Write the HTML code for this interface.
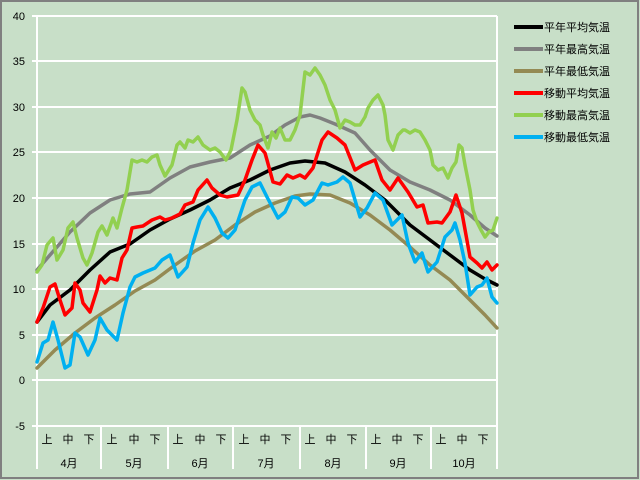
<!DOCTYPE html>
<html><head><meta charset="utf-8"><style>
body{margin:0;background:#c8dfc8;}
svg{display:block;}
text{font-family:"Liberation Sans","Noto Sans CJK JP",sans-serif;font-size:11px;fill:#000;}
</style></head><body>
<svg width="640" height="480" viewBox="0 0 640 480">
<rect x="0" y="0" width="640" height="480" fill="#c8dfc8"/>
<rect x="1" y="1" width="637" height="477" fill="none" stroke="#808080" stroke-width="2"/>
<g stroke="#fff" stroke-width="2">
<line x1="37" y1="16" x2="497" y2="16"/><line x1="37" y1="61" x2="497" y2="61"/>
<line x1="37" y1="107" x2="497" y2="107"/><line x1="37" y1="152" x2="497" y2="152"/>
<line x1="37" y1="198" x2="497" y2="198"/><line x1="37" y1="244" x2="497" y2="244"/>
<line x1="37" y1="289" x2="497" y2="289"/><line x1="37" y1="335" x2="497" y2="335"/>
<line x1="37" y1="380" x2="497" y2="380"/><line x1="37" y1="426" x2="497" y2="426"/>
<line x1="37" y1="16" x2="37" y2="469"/><line x1="497" y1="16" x2="497" y2="469"/>
<line x1="32" y1="16" x2="37" y2="16"/><line x1="32" y1="61" x2="37" y2="61"/><line x1="32" y1="107" x2="37" y2="107"/><line x1="32" y1="152" x2="37" y2="152"/><line x1="32" y1="198" x2="37" y2="198"/><line x1="32" y1="244" x2="37" y2="244"/><line x1="32" y1="289" x2="37" y2="289"/><line x1="32" y1="335" x2="37" y2="335"/><line x1="32" y1="380" x2="37" y2="380"/><line x1="32" y1="426" x2="37" y2="426"/>
<line x1="101" y1="426" x2="101" y2="469"/><line x1="168" y1="426" x2="168" y2="469"/><line x1="233" y1="426" x2="233" y2="469"/><line x1="300" y1="426" x2="300" y2="469"/><line x1="366" y1="426" x2="366" y2="469"/><line x1="431" y1="426" x2="431" y2="469"/>
</g>
<g text-anchor="end">
<text x="25" y="20">40</text><text x="25" y="65">35</text><text x="25" y="111">30</text><text x="25" y="156">25</text><text x="25" y="202">20</text><text x="25" y="248">15</text><text x="25" y="293">10</text><text x="25" y="339">5</text><text x="25" y="384">0</text><text x="25" y="430">-5</text>
</g>
<g text-anchor="middle">
<text x="47" y="443">上</text><text x="68" y="443">中</text><text x="89" y="443">下</text>
<text x="112" y="443">上</text><text x="134" y="443">中</text><text x="155" y="443">下</text>
<text x="178" y="443">上</text><text x="200" y="443">中</text><text x="221" y="443">下</text>
<text x="244" y="443">上</text><text x="265" y="443">中</text><text x="286" y="443">下</text>
<text x="310" y="443">上</text><text x="331" y="443">中</text><text x="352" y="443">下</text>
<text x="376" y="443">上</text><text x="397" y="443">中</text><text x="418" y="443">下</text>
<text x="441" y="443">上</text><text x="462" y="443">中</text><text x="483" y="443">下</text>
<text x="69" y="467">4月</text><text x="134" y="467">5月</text><text x="200" y="467">6月</text><text x="266" y="467">7月</text><text x="333" y="467">8月</text><text x="398" y="467">9月</text><text x="464" y="467">10月</text>
</g>
<g fill="none" stroke-width="3.5" stroke-linejoin="round" stroke-linecap="round">
<polyline stroke="#808080" points="37,270 50,255 70,232 90,213 110,200 130,194 150,192 170,178 190,167 210,162 230,158 250,145 270,136 285,125 300,117 310,115 320,118 335,124 355,133 370,150 390,170 410,182 430,190 450,200 470,215 485,228 497,236"/>
<polyline stroke="#948a54" points="37,368 55,350 75,333 95,318 115,305 135,291 155,280 175,265 195,251 215,240 235,225 255,212 275,203 295,196 310,194 330,195 350,203 370,215 390,230 410,247 430,265 450,280 470,300 485,315 497,328"/>
<polyline stroke="#000" points="37,322 50,305 70,290 90,270 110,252 130,244 150,230 170,219 190,210 210,200 230,188 250,180 270,170 290,163 305,161 325,163 345,172 365,185 385,200 410,225 430,240 450,255 470,270 485,279 497,285"/>
<polyline stroke="#92d050" points="37,272 42,265 47,245 53,238 57,260 63,250 68,228 73,222 77,238 83,258 87,265 92,253 98,232 102,226 107,235 113,218 117,228 122,208 127,190 132,160 137,162 142,160 147,162 152,157 157,155 160,165 165,176 172,165 177,145 180,142 185,148 188,140 193,142 198,137 203,145 210,150 215,148 220,152 226,160 231,150 237,120 242,88 245,92 250,110 255,120 260,125 263,135 268,148 272,132 276,138 280,128 285,140 290,140 295,130 300,115 305,72 310,75 315,68 320,75 325,85 330,100 335,110 340,128 345,120 350,122 355,125 360,125 365,117 368,108 373,100 378,95 383,105 385,115 388,140 393,150 398,135 403,130 405,130 410,133 415,130 420,132 425,140 430,150 433,165 438,170 443,168 448,178 452,168 456,162 459,145 462,148 465,165 470,190 473,210 477,222 481,230 485,237 489,232 493,230 497,218"/>
<polyline stroke="#ff0000" points="37,322 43,308 50,287 55,284 60,300 65,315 72,308 75,283 80,290 83,303 90,312 97,290 100,276 105,283 110,278 117,280 122,258 127,250 132,228 137,227 143,226 152,220 160,217 165,220 172,218 180,214 185,205 193,202 198,190 207,180 212,188 220,195 227,197 238,195 245,180 252,160 258,145 265,153 267,160 273,182 280,184 287,175 293,178 300,175 305,178 313,168 322,140 328,132 337,138 345,145 355,170 363,165 375,160 382,180 390,190 398,178 408,192 417,207 423,205 428,223 437,222 442,223 450,212 456,195 462,213 470,257 477,263 482,268 487,262 492,270 497,265"/>
<polyline stroke="#00b0f0" points="37,362 43,343 48,340 53,322 58,340 65,368 70,365 75,333 80,337 88,355 95,340 100,318 107,330 112,335 117,340 123,313 130,287 135,277 143,273 155,268 162,260 170,255 178,277 187,267 193,243 200,220 208,207 215,218 222,233 228,238 235,230 245,200 252,187 260,183 267,197 278,218 285,212 292,197 298,198 305,205 313,200 322,183 328,185 337,182 343,177 350,183 360,217 367,208 375,193 383,200 392,225 402,215 408,243 415,262 422,253 428,272 437,262 445,237 452,230 455,223 460,240 465,263 470,295 477,287 482,285 487,278 492,297 497,303"/>
</g>
<g stroke-width="4">
<line x1="514" y1="27" x2="543" y2="27" stroke="#000"/>
<line x1="514" y1="49" x2="543" y2="49" stroke="#808080"/>
<line x1="514" y1="71" x2="543" y2="71" stroke="#948a54"/>
<line x1="514" y1="93" x2="543" y2="93" stroke="#ff0000"/>
<line x1="514" y1="115" x2="543" y2="115" stroke="#92d050"/>
<line x1="514" y1="137" x2="543" y2="137" stroke="#00b0f0"/>
</g>
<g>
<text x="544" y="31">平年平均気温</text><text x="544" y="53">平年最高気温</text><text x="544" y="75">平年最低気温</text>
<text x="544" y="97">移動平均気温</text><text x="544" y="119">移動最高気温</text><text x="544" y="141">移動最低気温</text>
</g>
</svg>
</body></html>
